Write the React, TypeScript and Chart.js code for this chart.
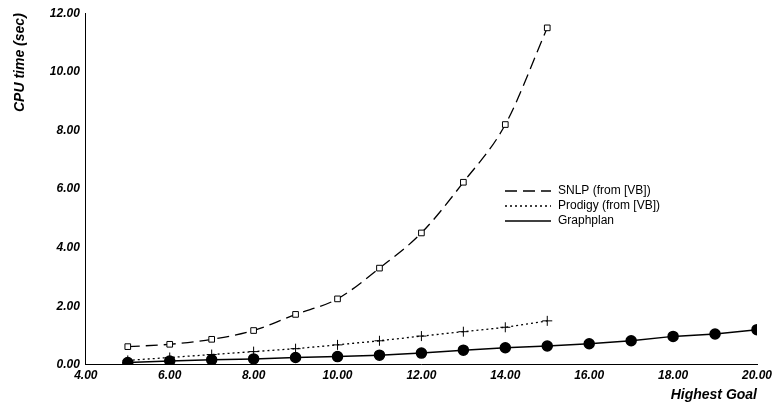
import { useEffect, useRef } from "react";
import { Chart, registerables } from "chart.js";

Chart.register(...registerables);

const goals = [5, 6, 7, 8, 9, 10, 11, 12, 13, 14, 15, 16, 17, 18, 19, 20];
const snlp = [0.62, 0.7, 0.87, 1.17, 1.72, 2.25, 3.3, 4.5, 6.23, 8.2, 11.5];
const prodigy = [0.15, 0.25, 0.35, 0.45, 0.55, 0.68, 0.82, 0.98, 1.13, 1.28, 1.5];
const graphplan = [0.08, 0.13, 0.17, 0.2, 0.25, 0.28, 0.33, 0.4, 0.5, 0.58, 0.64, 0.72, 0.82, 0.97, 1.05, 1.2];
const legendLabels = ["SNLP (from [VB])", "Prodigy (from [VB])", "Graphplan"];

const font = "Liberation Sans, Arial, sans-serif";

const legendPlugin = {
  id: "manualLegend",
  afterDraw(chart: any) {
    const ctx = chart.ctx;
    const dashes = [[12, 6], [2, 3], []];
    ctx.save();
    ctx.font = `12px ${font}`;
    ctx.textBaseline = "middle";
    legendLabels.forEach((l, i) => {
      const y = 191 + i * 15;
      ctx.setLineDash(dashes[i]);
      ctx.strokeStyle = "#000";
      ctx.lineWidth = 1.3;
      ctx.beginPath();
      ctx.moveTo(505, y);
      ctx.lineTo(551, y);
      ctx.stroke();
      ctx.fillStyle = "#000";
      ctx.fillText(l, 558, y);
    });
    ctx.restore();
  },
};

export default function App() {
  const ref = useRef<HTMLCanvasElement | null>(null);

  useEffect(() => {
    if (!ref.current) return;
    const pts = (arr: number[]) => arr.map((v, i) => ({ x: goals[i], y: v }));
    const chart = new Chart(ref.current, {
      type: "line",
      data: {
        datasets: [
          {
            label: legendLabels[0],
            data: pts(snlp),
            borderColor: "#000",
            borderWidth: 1.3,
            borderDash: [12, 6],
            cubicInterpolationMode: "monotone",
            pointStyle: "rect",
            pointRadius: 4,
            pointBackgroundColor: "#fff",
            pointBorderColor: "#000",
            pointBorderWidth: 1,
          },
          {
            label: legendLabels[1],
            data: pts(prodigy),
            borderColor: "#000",
            borderWidth: 1.3,
            borderDash: [2, 3],
            pointStyle: "cross",
            pointRadius: 5,
            pointBorderColor: "#000",
            pointBorderWidth: 1,
          },
          {
            label: legendLabels[2],
            data: pts(graphplan),
            borderColor: "#000",
            borderWidth: 1.5,
            pointStyle: "circle",
            pointRadius: 5,
            pointBackgroundColor: "#000",
            pointBorderColor: "#000",
          },
        ],
      },
      options: {
        responsive: false,
        animation: false,
        layout: { padding: { top: 3, right: 20, left: 8, bottom: 0 } },
        plugins: { legend: { display: false }, tooltip: { enabled: false } },
        scales: {
          x: {
            type: "linear",
            min: 4,
            max: 20,
            grid: { display: false, drawTicks: false },
            border: { color: "#000", width: 1 },
            ticks: {
              stepSize: 2,
              color: "#000",
              padding: 4,
              font: { family: font, size: 12, weight: "bold", style: "italic" },
              callback: (v: any) => Number(v).toFixed(2),
            },
            title: {
              display: true,
              text: "Highest Goal",
              align: "end",
              color: "#000",
              padding: { top: 0 },
              font: { family: font, size: 14, weight: "bold", style: "italic" },
            },
          },
          y: {
            min: 0,
            max: 12,
            grid: { display: false, drawTicks: false },
            border: { color: "#000", width: 1 },
            ticks: {
              stepSize: 2,
              color: "#000",
              padding: 6,
              font: { family: font, size: 12, weight: "bold", style: "italic" },
              callback: (v: any) => Number(v).toFixed(2),
            },
            title: {
              display: true,
              text: "CPU time (sec)",
              align: "end",
              color: "#000",
              padding: { top: 4, bottom: 15 },
              font: { family: font, size: 14, weight: "bold", style: "italic" },
            },
          },
        },
      },
      plugins: [legendPlugin],
    } as any);
    return () => chart.destroy();
  }, []);

  return (
    <div style={{ position: "fixed", left: 0, top: 0, width: 777, height: 408, background: "#fff" }}>
      <canvas ref={ref} width={777} height={408} />
    </div>
  );
}
